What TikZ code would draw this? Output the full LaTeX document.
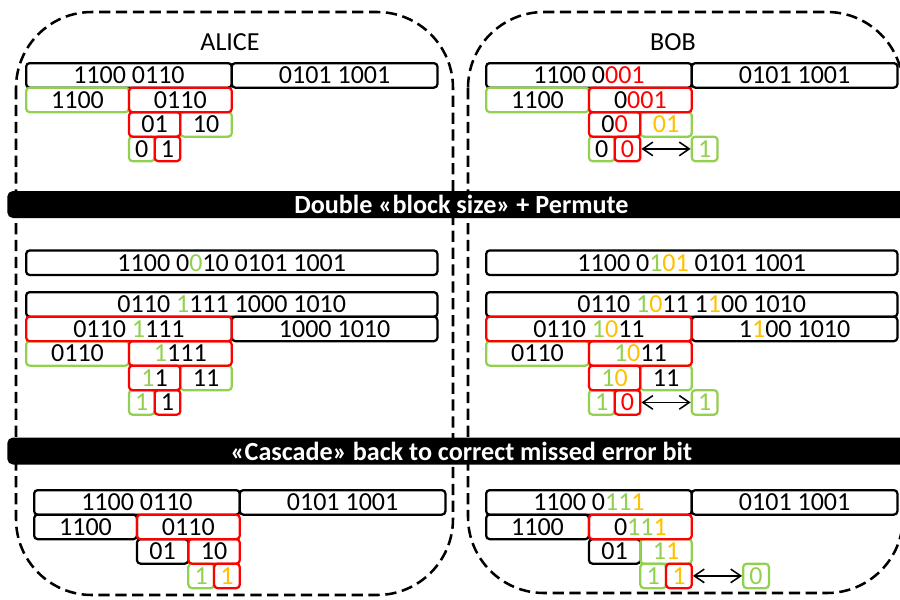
\documentclass[tikz,border=0pt]{standalone}
\usepackage{fontspec}
\setmainfont{Carlito}
\usetikzlibrary{arrows.meta}
\definecolor{grn}{HTML}{92D050}
\definecolor{org}{HTML}{FFC000}
\definecolor{rd}{HTML}{FF0000}
\newcommand{\gbit}[1]{\textcolor{grn}{#1}}
\newcommand{\obit}[1]{\textcolor{org}{#1}}
\newcommand{\rbit}[1]{\textcolor{rd}{#1}}

\begin{document}
\begin{tikzpicture}[
    x=0.025cm, y=-0.025cm,
    >={Straight Barb[length=2.5mm,width=3.4mm]},
    every node/.style={font=\fontsize{18.5}{21}\selectfont},
    region/.style={draw, line width=1.8pt, dash pattern=on 8pt off 4pt,
                   rounded corners=1.9cm},
    banner/.style={fill=black, text=white, rounded corners=4pt, inner sep=0pt,
                   font=\fontsize{18.6}{21}\selectfont\bfseries, anchor=west,
                   minimum width=22.7cm, minimum height=0.675cm},
    bitbox/.style={draw, line width=1.6pt, rounded corners=2.5pt, inner sep=0pt,
                   anchor=north west, minimum height=0.6125cm},
    nb/.style={minimum width=#1*0.6425cm},
    blk/.style={bitbox, draw=black},
    okb/.style={bitbox, draw=grn},
    errb/.style={bitbox, draw=rd},
    swap/.style={<->, line width=1.1pt},
    sec/.style={x=0.6425cm, y=-0.6125cm},
  ]
  \clip (0,0) rectangle (900,599);
  % the two parties
  \draw[region] (16,12) rectangle (453,595);
  \draw[region] (468,12) rectangle (903,593);
  \node (alice) at (230,42) {ALICE};
  \node (bob)   at (673,42) {BOB};
  \node[banner] (permute) at (7,204.5) {Double «block size» + Permute};
  \node[banner] (cascade) at (7,451) {«Cascade» back to correct missed error bit};

  % pass 1, Alice
  \begin{scope}[shift={(25,62)}, sec]
    \node[blk, nb=8]  (a1l) at (0,0) {1100 0110};
    \node[blk, nb=8]  (a1r) at (8,0) {0101 1001};
    \node[okb, nb=4]  (a2l) at (0,1) {1100};
    \node[okb, nb=2]  (a3r) at (6,2) {10};
    \node[okb, nb=1]  (a4l) at (4,3) {0};
    \node[errb, nb=4] (a2r) at (4,1) {0110};
    \node[errb, nb=2] (a3l) at (4,2) {01};
    \node[errb, nb=1] (a4r) at (5,3) {1};
  \end{scope}

  % pass 1, Bob
  \begin{scope}[shift={(485,62)}, sec]
    \node[blk, nb=8]  (b1l) at (0,0) {1100 0\rbit{001}};
    \node[blk, nb=8]  (b1r) at (8,0) {0101 1001};
    \node[okb, nb=4]  (b2l) at (0,1) {1100};
    \node[okb, nb=2]  (b3r) at (6,2) {\obit{01}};
    \node[okb, nb=1]  (b4l) at (4,3) {0};
    \node[okb, nb=1]  (b4x) at (8,3) {\gbit{1}};
    \node[errb, nb=4] (b2r) at (4,1) {0\rbit{001}};
    \node[errb, nb=2] (b3l) at (4,2) {0\rbit{0}};
    \node[errb, nb=1] (b4r) at (5,3) {\rbit{0}};
    \draw[swap] (b4r) -- (b4x);
  \end{scope}

  % pass 2, Alice
  \begin{scope}[shift={(25,291)}, sec]
    \node[blk, nb=16] (am0)  at (0,-1.7) {1100 0\gbit{0}10 0101 1001};
    \node[blk, nb=16] (am1)  at (0,0) {0110 \gbit{1}111 1000 1010};
    \node[blk, nb=8]  (am2r) at (8,1) {1000 1010};
    \node[okb, nb=4]  (am3l) at (0,2) {0110};
    \node[okb, nb=2]  (am4r) at (6,3) {11};
    \node[okb, nb=1]  (am5l) at (4,4) {\gbit{1}};
    \node[errb, nb=8] (am2l) at (0,1) {0110 \gbit{1}111};
    \node[errb, nb=4] (am3r) at (4,2) {\gbit{1}111};
    \node[errb, nb=2] (am4l) at (4,3) {\gbit{1}1};
    \node[errb, nb=1] (am5r) at (5,4) {1};
  \end{scope}

  % pass 2, Bob
  \begin{scope}[shift={(485,291)}, sec]
    \node[blk, nb=16] (bm0)  at (0,-1.7) {1100 0\gbit{1}\obit{01} 0101 1001};
    \node[blk, nb=16] (bm1)  at (0,0) {0110 \gbit{1}\obit{0}11 1\obit{1}00 1010};
    \node[blk, nb=8]  (bm2r) at (8,1) {1\obit{1}00 1010};
    \node[okb, nb=4]  (bm3l) at (0,2) {0110};
    \node[okb, nb=2]  (bm4r) at (6,3) {11};
    \node[okb, nb=1]  (bm5l) at (4,4) {\gbit{1}};
    \node[okb, nb=1]  (bm5x) at (8,4) {\gbit{1}};
    \node[errb, nb=8] (bm2l) at (0,1) {0110 \gbit{1}\obit{0}11};
    \node[errb, nb=4] (bm3r) at (4,2) {\gbit{1}\obit{0}11};
    \node[errb, nb=2] (bm4l) at (4,3) {\gbit{1}\obit{0}};
    \node[errb, nb=1] (bm5r) at (5,4) {\rbit{0}};
    \draw[swap] (bm5r) -- (bm5x);
  \end{scope}

  % cascade, Alice
  \begin{scope}[shift={(33,489)}, sec]
    \node[blk, nb=8]  (ac1l) at (0,0) {1100 0110};
    \node[blk, nb=8]  (ac1r) at (8,0) {0101 1001};
    \node[blk, nb=4]  (ac2l) at (0,1) {1100};
    \node[blk, nb=2]  (ac3l) at (4,2) {01};
    \node[okb, nb=1]  (ac4l) at (6,3) {\gbit{1}};
    \node[errb, nb=4] (ac2r) at (4,1) {0110};
    \node[errb, nb=2] (ac3r) at (6,2) {10};
    \node[errb, nb=1] (ac4r) at (7,3) {\obit{1}};
  \end{scope}

  % cascade, Bob
  \begin{scope}[shift={(485,489)}, sec]
    \node[blk, nb=8]  (bc1l) at (0,0) {1100 0\gbit{11}\obit{1}};
    \node[blk, nb=8]  (bc1r) at (8,0) {0101 1001};
    \node[blk, nb=4]  (bc2l) at (0,1) {1100};
    \node[blk, nb=2]  (bc3l) at (4,2) {01};
    \node[okb, nb=2]  (bc3r) at (6,2) {\gbit{1}\obit{1}};
    \node[okb, nb=1]  (bc4l) at (6,3) {\gbit{1}};
    \node[okb, nb=1]  (bc4x) at (10,3) {\gbit{0}};
    \node[errb, nb=4] (bc2r) at (4,1) {0\gbit{11}\obit{1}};
    \node[errb, nb=1] (bc4r) at (7,3) {\obit{1}};
    \draw[swap] (bc4r) -- (bc4x);
  \end{scope}
\end{tikzpicture}
\end{document}
